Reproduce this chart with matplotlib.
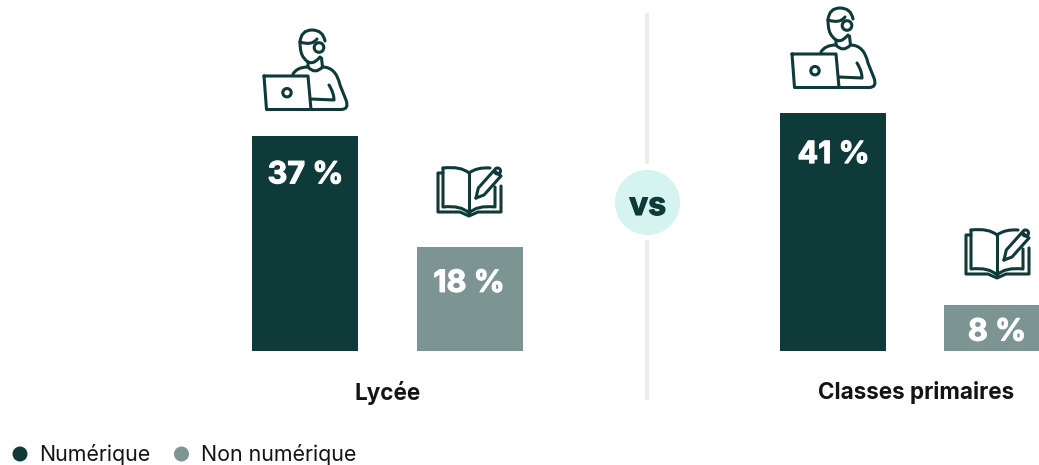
'''
Lycée vs classes primaires: part du numérique et du non numérique.
'''

import matplotlib
matplotlib.use('Agg')
import matplotlib.pyplot as plt
import matplotlib.patheffects as pe
from matplotlib.path import Path
from matplotlib.patches import PathPatch, Circle, Rectangle

# Dados
groups = ['Lycée', 'Classes primaires']
series = ['Numérique', 'Non numérique']
numerique = [37, 41]
non_numerique = [18, 8]

DARK = '#0f3a3a'
GREY = '#7c9593'
MINT = '#d5f3ef'
LINE = '#ececec'
TEXT = '#141414'

plt.rcParams['font.family'] = ['Inter', 'DejaVu Sans']

M, L, C = Path.MOVETO, Path.LINETO, Path.CURVE3
LW = 2.2


def stroke(ax, verts, codes, dx, dy, lw=LW):
	pts = [(x + dx, y + dy) for x, y in verts]
	ax.add_patch(PathPatch(Path(pts, codes), fill=False, edgecolor=DARK, lw=lw,
		capstyle='round', joinstyle='round'))


def person(ax, dx, dy):
	# Notebook
	stroke(ax, [(264, 76), (308, 76), (311, 109.5), (266.5, 109.5), (264, 76)],
		[M, L, L, L, L], dx, dy)
	ax.add_patch(Circle((287 + dx, 92.7 + dy), 4.2, fill=False, edgecolor=DARK, lw=LW))
	# Fone e cabeça
	ax.add_patch(Circle((319 + dx, 47.5 + dy), 4.8, fill=False, edgecolor=DARK, lw=LW))
	stroke(ax, [(300, 42), (301, 30), (312, 30), (323, 30), (325, 41)],
		[M, C, C, C, C], dx, dy)
	stroke(ax, [(300, 42), (312, 46), (317, 39)], [M, C, C], dx, dy)
	stroke(ax, [(300, 42), (300, 54), (304, 58), (311, 68), (320, 57)],
		[M, C, C, C, C], dx, dy)
	# Pescoço, ombros e braço
	stroke(ax, [(308, 62), (308, 67), (321.5, 58), (322.5, 67)], [M, L, M, L], dx, dy)
	stroke(ax, [(293, 74), (297, 67), (308, 67)], [M, C, C], dx, dy)
	stroke(ax, [(308, 67), (315, 75), (322.5, 67)], [M, C, C], dx, dy)
	stroke(ax, [(322.5, 67), (336, 67), (340, 85), (346, 100), (349.5, 109.5), (341, 109.5), (311, 109.5)],
		[M, C, C, L, C, C, L], dx, dy)
	stroke(ax, [(329, 85), (334, 93), (334, 100), (311, 99)], [M, C, C, L], dx, dy)


def book(ax, dx, dy):
	# Páginas
	stroke(ax, [(443, 168), (461, 166), (469, 173), (477, 167), (490, 168)],
		[M, C, C, C, C], dx, dy)
	stroke(ax, [(443, 168), (443, 207), (461, 205), (469, 213), (477, 205), (495, 207), (495, 187)],
		[M, L, C, C, C, C, L], dx, dy)
	stroke(ax, [(469, 173), (469, 214)], [M, L], dx, dy)
	# Capa
	stroke(ax, [(443, 173), (438, 173), (438, 212), (460, 212), (469, 216), (478, 212), (501, 212), (501, 186)],
		[M, L, L, L, L, L, L, L], dx, dy)
	# Lápis
	stroke(ax, [(476, 198), (478.3, 188), (494, 170.5), (501, 176), (484, 195), (476, 198)],
		[M, L, L, L, L, L], dx, dy)
	ax.add_patch(Circle((497.5 + dx, 171 + dy), 3, fill=False, edgecolor=DARK, lw=LW))


def main():
	fig = plt.figure(figsize=(10.39, 4.65), dpi=100)

	# Eixo em pixels para ícones, textos e separador
	deco = fig.add_axes([0, 0, 1, 1])
	deco.set_xlim(0, 1039)
	deco.set_ylim(465, 0)
	deco.axis('off')

	# Eixo das barras: 0 % em y=351, 5,8 px por ponto
	ax = fig.add_axes([0, 0, 1, 1], sharex=deco)
	ax.set_ylim((351 - 465) / 5.8, 351 / 5.8)
	ax.axis('off')
	ax.patch.set_alpha(0)

	x_num = [305, 833]
	x_non = [470, 991.5]
	ax.bar(x_num, numerique, width=106, color=DARK)
	ax.bar(x_non, non_numerique, width=[106, 95], color=GREY)

	# Negrito mais pesado nos rótulos das barras
	heavy = [pe.withStroke(linewidth=0.8, foreground='white')]

	# Deslocamento de cada rótulo a partir do topo da barra, em pontos de %
	for x, v, off in zip(x_num, numerique, [6.2, 6.7]):
		ax.text(x + 0.5, v - off, f'{v} %', color='white', fontsize=22, fontweight='bold',
			ha='center', va='center_baseline', path_effects=heavy)
	for x, v, off, shift in zip(x_non, non_numerique, [5.9, 4.3], [-1, 5.5]):
		ax.text(x + shift, v - off, f'{v} %', color='white', fontsize=22, fontweight='bold',
			ha='center', va='center_baseline', path_effects=heavy)

	# Separador central
	deco.add_patch(Rectangle((645, 13), 4, 151, color=LINE, lw=0))
	deco.add_patch(Rectangle((645, 240), 4, 160, color=LINE, lw=0))
	deco.add_patch(Circle((647.5, 202.5), 32.5, color=MINT, lw=0))
	deco.text(647.5, 203, 'vs', color=DARK, fontsize=23, fontweight='bold', ha='center', va='center_baseline',
		path_effects=[pe.withStroke(linewidth=0.8, foreground=DARK)])

	person(deco, 0, 0)
	person(deco, 528, -22)
	book(deco, 0, 0)
	book(deco, 528, 62)

	# Rótulos dos grupos
	deco.text(387.5, 392.5, groups[0], color=TEXT, fontsize=16.2, fontweight='bold', ha='center', va='center')
	deco.text(916, 392.5, groups[1], color=TEXT, fontsize=16.2, fontweight='bold', ha='center', va='center')

	# Legenda
	for xc, xt, col, name in zip([20, 181.5], [39.5, 201], [DARK, GREY], series):
		deco.add_patch(Circle((xc, 454), 7.5, color=col, lw=0))
		deco.text(xt, 454, name, color=TEXT, fontsize=15.4, ha='left', va='center')

	fig.savefig('out.png', dpi=100)


if __name__ == '__main__':
	main()
